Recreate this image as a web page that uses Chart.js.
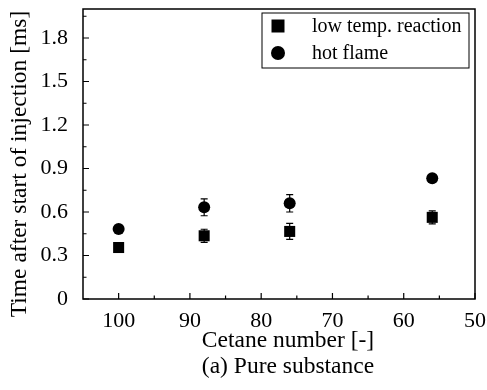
<!DOCTYPE html>
<html>
<head>
<meta charset="utf-8">
<script src="https://cdn.jsdelivr.net/npm/chart.js@4.4.1/dist/chart.umd.min.js"></script>
<style>
  html, body { margin: 0; padding: 0; background: #fff; }
  canvas { display: block; }
</style>
</head>
<body>
<canvas id="chart" width="487" height="390"></canvas>
<script>
/* ── Data ─────────────────────────────────────────────────────── */
const cetane       = [100, 88, 76, 56];
const lowTemp      = [0.355, 0.436, 0.466, 0.563];
const lowTempErr   = [0.015, 0.045, 0.055, 0.045];
const hotFlame     = [0.483, 0.632, 0.66, 0.833];
const hotFlameErr  = [0.02, 0.058, 0.06, 0.025];
const seriesNames  = ['low temp. reaction', 'hot flame'];
const xTicks       = [100, 90, 80, 70, 60, 50];
const yTicks       = [0, 0.3, 0.6, 0.9, 1.2, 1.5, 1.8];
const yTickLabels  = ['0', '0.3', '0.6', '0.9', '1.2', '1.5', '1.8'];
const xTitle       = 'Cetane number [-]';
const yTitle       = 'Time after start of injection [ms]';
const caption      = '(a) Pure substance';

const SERIF = '"Liberation Serif", "Times New Roman", serif';
const INK = '#000';

/* ── Frame, inward ticks, error bars, legend, titles ──────────── */
const errorBars = {
  id: 'errorBars',
  beforeDatasetsDraw(chart) {
    const { ctx, scales: { x, y } } = chart;
    const errs = [lowTempErr, hotFlameErr];
    ctx.save();
    ctx.strokeStyle = INK;
    ctx.lineWidth = 1.2;
    chart.data.datasets.forEach((ds, i) => {
      ds.data.forEach((p, j) => {
        const e = errs[i][j];
        const px = x.getPixelForValue(p.x);
        const top = y.getPixelForValue(p.y + e);
        const bot = y.getPixelForValue(p.y - e);
        ctx.beginPath();
        ctx.moveTo(px, top); ctx.lineTo(px, bot);
        ctx.moveTo(px - 3.5, top); ctx.lineTo(px + 3.5, top);
        ctx.moveTo(px - 3.5, bot); ctx.lineTo(px + 3.5, bot);
        ctx.stroke();
      });
    });
    ctx.restore();
  },
};

const frame = {
  id: 'frame',
  afterDraw(chart) {
    const { ctx, chartArea: a, scales: { x, y } } = chart;
    ctx.save();
    ctx.strokeStyle = INK;
    ctx.lineWidth = 1.5;
    ctx.strokeRect(a.left, a.top, a.right - a.left, a.bottom - a.top);

    // inward ticks
    ctx.lineWidth = 1.2;
    ctx.beginPath();
    xTicks.forEach(v => {
      const px = x.getPixelForValue(v);
      ctx.moveTo(px, a.bottom); ctx.lineTo(px, a.bottom - 6);
      const m = v + 5;
      if (m < x.max) {
        const pm = x.getPixelForValue(m);
        ctx.moveTo(pm, a.bottom); ctx.lineTo(pm, a.bottom - 3.5);
      }
    });
    yTicks.forEach(v => {
      const py = y.getPixelForValue(v);
      ctx.moveTo(a.left, py); ctx.lineTo(a.left + 6, py);
      const pm = y.getPixelForValue(v + 0.15);
      ctx.moveTo(a.left, pm); ctx.lineTo(a.left + 3.5, pm);
    });
    ctx.stroke();

    // legend
    const lx = a.right - 213, ly = a.top + 4, lw = 207, lh = 55;
    ctx.lineWidth = 1;
    ctx.strokeRect(lx, ly, lw, lh);
    ctx.fillStyle = INK;
    ctx.font = `20px ${SERIF}`;
    ctx.textBaseline = 'middle';
    ctx.textAlign = 'left';
    chart.data.datasets.forEach((ds, i) => {
      const cy = ly + 13 + i * 27;
      const cx = lx + 16;
      ctx.beginPath();
      if (ds.pointStyle === 'rect') ctx.rect(cx - 6.5, cy - 6.5, 13, 13);
      else ctx.arc(cx, cy, 7, 0, Math.PI * 2);
      ctx.fill();
      ctx.fillText(seriesNames[i], lx + 50, cy + 1);
    });

    // axis titles and caption
    ctx.font = `23.5px ${SERIF}`;
    ctx.textAlign = 'center';
    ctx.textBaseline = 'alphabetic';
    const cx = (a.left + a.right) / 2 + 9;
    ctx.fillText(xTitle, cx, 347);
    ctx.fillText(caption, cx, 373);
    ctx.save();
    ctx.translate(26, (a.top + a.bottom) / 2 + 10);
    ctx.rotate(-Math.PI / 2);
    ctx.fillText(yTitle, 0, 0);
    ctx.restore();
    ctx.restore();
  },
};

/* ── Chart ────────────────────────────────────────────────────── */
new Chart(document.getElementById('chart'), {
  type: 'scatter',
  data: {
    datasets: [
      {
        label: seriesNames[0],
        data: cetane.map((c, i) => ({ x: c, y: lowTemp[i] })),
        pointStyle: 'rect',
        pointRadius: 7.8,
        backgroundColor: INK,
        borderColor: INK,
        borderWidth: 0,
      },
      {
        label: seriesNames[1],
        data: cetane.map((c, i) => ({ x: c, y: hotFlame[i] })),
        pointStyle: 'circle',
        pointRadius: 6,
        backgroundColor: INK,
        borderColor: INK,
        borderWidth: 0,
      },
    ],
  },
  options: {
    responsive: false,
    animation: false,
    devicePixelRatio: 1,
    layout: { padding: { top: 9, right: 12, left: 0, bottom: 0 } },
    plugins: { legend: { display: false }, tooltip: { enabled: false } },
    scales: {
      x: {
        type: 'linear',
        reverse: true,
        min: 50,
        max: 105,
        afterBuildTicks: s => { s.ticks = xTicks.map(v => ({ value: v })); },
        afterFit: s => { s.height = 91; s.paddingLeft = 0; s.paddingRight = 0; },
        grid: { display: false, drawTicks: false },
        border: { display: false },
        ticks: { color: INK, font: { family: SERIF, size: 22 }, padding: 9, maxRotation: 0, autoSkip: false },
      },
      y: {
        min: 0,
        max: 2.0,
        afterBuildTicks: s => { s.ticks = yTicks.map(v => ({ value: v })); },
        afterFit: s => { s.width = 83; s.paddingTop = 0; s.paddingBottom = 0; },
        grid: { display: false, drawTicks: false },
        border: { display: false },
        ticks: {
          color: INK,
          font: { family: SERIF, size: 22 },
          padding: 15,
          autoSkip: false,
          callback: (v, i) => yTickLabels[i],
        },
      },
    },
  },
  plugins: [errorBars, frame],
});
</script>
</body>
</html>
